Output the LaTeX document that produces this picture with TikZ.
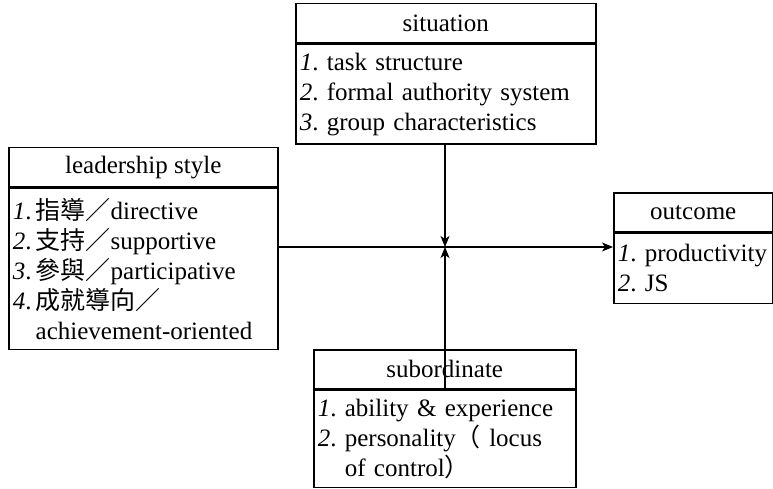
\documentclass[tikz,border=0pt]{standalone}
\usepackage{fontspec}
\setmainfont{Liberation Serif}
\newfontfamily\cjk{Noto Sans CJK TC}
\usepackage{tikz}
\usetikzlibrary{positioning,arrows.meta}

\newcommand{\no}[1]{\textit{#1}.}
\frenchspacing

\begin{document}
\begin{tikzpicture}[x=1pt,y=-1pt,
  font=\fontsize{25}{30}\selectfont,
  head/.style={draw, line width=1.5pt, anchor=north west, minimum height=39pt, inner sep=0pt},
  body/.style={draw, line width=1.5pt, align=left, inner xsep=4pt, inner ysep=5pt},
  arr/.style={line width=1.1pt, -{Stealth[length=11pt,width=9pt,inset=3pt]}}]

  \useasboundingbox (0,0) rectangle (773,489);

  % situation
  \node[head, minimum width=300pt] (sith) at (295,3) {situation};
  \node[body, text width=292pt, minimum height=100pt, below=0pt of sith] (sit)
    {\no{1} task structure\\ \no{2} formal authority system\\ \no{3} group characteristics};

  % leadership style
  \node[head, minimum width=269pt] (leadh) at (8,147) {leadership style};
  \node[body, text width=261pt, minimum height=161pt, below=0pt of leadh] (lead)
    {\no{1}\,{\cjk 指導／}directive\\ \no{2}\,{\cjk 支持／}supportive\\
     \no{3}\,{\cjk 參與／}participative\\ \no{4}\,{\cjk 成就導向／}\\
     \phantom{\no{4}\,}achievement-oriented};

  % outcome
  \node[head, minimum width=159pt] (outh) at (613,192) {outcome};
  \node[body, text width=151pt, minimum height=70pt, below=0pt of outh] (out)
    {\no{1} productivity\\ \no{2} JS};

  % subordinate
  \node[head, minimum width=262pt] (subh) at (313,349) {subordinate};
  \node[body, text width=254pt, minimum height=97pt, below=0pt of subh] (sub)
    {\no{1} ability \& experience\\ \no{2} personality{\cjk （} locus\\
     \phantom{\no{2} }of control{\cjk ）}};

  \coordinate (mid) at (445,247);

  \draw[arr] (lead.east |- mid) -- (out.west |- mid);
  \draw[arr] (sit.south -| mid) -- (mid);
  \draw[arr] (sub.north -| mid) -- (mid);
\end{tikzpicture}
\end{document}
